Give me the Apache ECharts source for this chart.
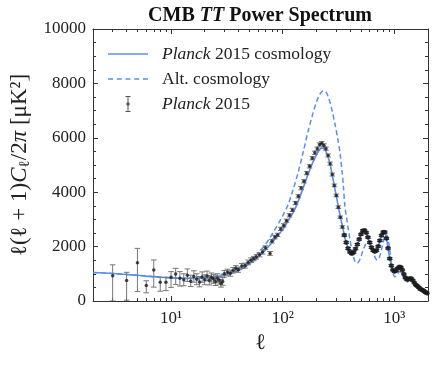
<!DOCTYPE html>
<html>
<head>
<meta charset="utf-8">
<script src="https://cdn.jsdelivr.net/npm/echarts@6/dist/echarts.min.js"></script>
<style>
  html, body { margin: 0; padding: 0; background: #fff; }
  #chart { width: 439px; height: 366px; }
</style>
</head>
<body>
<div id="chart"></div>
<script>
// best-fit Planck 2015 spectrum (solid)
var modelEll = [2, 3, 4, 5, 6, 7, 8, 10, 12, 15, 18, 22, 26, 30, 35, 40, 45, 51, 57, 64, 70, 77, 85, 93, 100, 110, 120, 130, 143, 156, 170, 185, 201, 212, 222, 232, 245, 255, 265, 280, 293, 304, 318, 332, 349, 362, 375, 388, 400, 412, 425, 440, 455, 470, 485, 500, 514, 527, 540, 555, 570, 585, 600, 620, 640, 660, 675, 690, 710, 730, 750, 770, 790, 810, 825, 840, 860, 880, 905, 930, 955, 980, 1000, 1020, 1045, 1070, 1100, 1130, 1160, 1190, 1220, 1250, 1280, 1310, 1340, 1370, 1400, 1430, 1460, 1500, 1550, 1600, 1650, 1700, 1750, 1800, 1850, 1900, 1950, 2000];
var modelDl = [1050, 1010, 975, 945, 915, 895, 875, 850, 835, 830, 840, 860, 900, 950, 1030, 1120, 1230, 1380, 1530, 1720, 1880, 2060, 2270, 2470, 2620, 2900, 3150, 3420, 3850, 4270, 4700, 5080, 5380, 5540, 5620, 5610, 5480, 5280, 5050, 4550, 4130, 3800, 3380, 3000, 2600, 2300, 2080, 1900, 1790, 1750, 1760, 1840, 1960, 2100, 2280, 2430, 2540, 2590, 2590, 2530, 2420, 2290, 2150, 1990, 1880, 1820, 1820, 1850, 1960, 2120, 2290, 2430, 2520, 2540, 2500, 2380, 2170, 1910, 1620, 1380, 1210, 1110, 1080, 1090, 1140, 1200, 1240, 1250, 1210, 1110, 980, 870, 800, 790, 810, 830, 830, 800, 740, 680, 610, 560, 500, 440, 420, 390, 350, 310, 285, 265];

// alternative cosmology (dashed)
var altEll = [2, 3, 4, 5, 6, 8, 10, 12, 15, 18, 22, 26, 30, 35, 40, 45, 51, 58, 64, 70, 77, 85, 93, 100, 112, 124, 138, 153, 169, 185, 200, 215, 228, 238, 248, 260, 275, 294, 310, 326, 340, 349, 361, 375, 388, 400, 415, 430, 445, 460, 475, 490, 505, 520, 540, 560, 585, 605, 625, 645, 665, 685, 700, 720, 740, 760, 780, 800, 820, 840, 852, 865, 880, 900, 920, 940, 960, 985, 1011, 1035, 1060, 1090, 1118, 1150, 1180, 1210, 1240, 1270, 1300, 1330, 1360, 1395, 1430, 1470, 1510, 1550, 1600, 1650, 1700, 1750, 1800, 1850, 1900, 1950, 2000];
var altDl = [1050, 1010, 975, 945, 915, 875, 850, 840, 840, 855, 885, 935, 1000, 1090, 1200, 1320, 1490, 1700, 1880, 2080, 2330, 2620, 2900, 3130, 3550, 4100, 4750, 5500, 6250, 6850, 7300, 7600, 7720, 7720, 7640, 7420, 7050, 6500, 6000, 5450, 4750, 4250, 3470, 3000, 2600, 2250, 1900, 1620, 1450, 1390, 1420, 1520, 1660, 1820, 2000, 2130, 2180, 2120, 1980, 1800, 1640, 1540, 1510, 1540, 1650, 1820, 2030, 2220, 2360, 2420, 2430, 2380, 2250, 2000, 1700, 1400, 1150, 960, 890, 910, 980, 1050, 1080, 1050, 960, 850, 750, 700, 700, 730, 760, 760, 720, 650, 580, 530, 500, 470, 430, 400, 370, 340, 310, 285, 265];

// Planck 2015 measurements
var dataEll = [3, 4, 5, 6, 7, 8, 9, 10, 11, 12, 13, 14, 15, 16, 17, 18, 19, 20, 21, 22, 23, 24, 25, 26, 27, 28, 29,
  30, 32, 34, 36, 38, 40, 43, 46, 49, 52, 55, 58, 62, 66, 70, 77, 80, 85, 90, 96, 102, 108, 115, 122, 130, 138, 146, 155, 164, 174, 184, 194, 204, 214, 224, 234, 244, 255, 266, 278, 290, 302, 315, 328, 342, 356, 370, 385, 400, 416, 432, 449, 466, 484, 502, 521, 540, 560, 580, 601, 623, 645, 668, 692, 716, 741, 767, 794, 821, 849, 878, 908, 939, 970, 1003, 1036, 1070, 1105, 1141, 1178, 1216, 1255, 1295, 1336, 1378, 1421, 1465, 1510, 1557, 1604, 1653, 1703, 1754, 1806, 1860, 1915, 1971];
var dataDl = [930, 750, 1410, 570, 1140, 690, 690, 870, 990, 835, 780, 950, 730, 900, 800, 700, 880, 780, 920, 760, 860, 810, 720, 840, 760, 650, 720,
  1000, 1060, 1020, 1130, 1200, 1150, 1290, 1300, 1420, 1500, 1560, 1620, 1700, 1800, 1960, 1750, 2200, 2350, 2430, 2650, 2780, 2950, 3150, 3350, 3600, 3850, 4150, 4400, 4700, 4950, 5250, 5450, 5600, 5750, 5800, 5720, 5600, 5350, 5050, 4650, 4250, 3880, 3450, 3080, 2720, 2420, 2150, 1930, 1800, 1740, 1790, 1920, 2080, 2270, 2450, 2580, 2600, 2510, 2340, 2150, 1970, 1860, 1820, 1860, 2010, 2220, 2410, 2530, 2530, 2300, 1940, 1560, 1300, 1140, 1080, 1120, 1200, 1250, 1240, 1140, 990, 860, 790, 800, 830, 820, 750, 670, 590, 550, 500, 440, 420, 390, 350, 310, 285];
var dataErrDown = [930, 720, 1060, 270, 630, 330, 310, 370, 380, 285, 220, 230, 200, 210, 200, 180, 190, 180, 180, 170, 160, 160, 150, 150, 140, 140, 140,
  120, 110, 110, 100, 100, 95, 90, 90, 85, 85, 80, 80, 75, 75, 70, 70, 65, 65, 60, 60, 60, 60, 60, 60, 60, 60, 60, 60, 60, 60, 60, 60, 60, 60, 60, 60, 60, 55, 55, 55, 50, 50, 50, 45, 45, 40, 40, 40, 35, 35, 35, 35, 35, 35, 35, 35, 35, 35, 35, 35, 35, 35, 35, 35, 35, 35, 35, 35, 35, 35, 35, 35, 35, 30, 30, 30, 30, 30, 30, 30, 30, 30, 30, 30, 30, 30, 30, 30, 30, 30, 30, 30, 30, 30, 30, 30, 30];
var dataErrUp = [400, 305, 525, 175, 370, 180, 180, 210, 210, 245, 220, 230, 220, 210, 200, 200, 190, 180, 180, 170, 170, 170, 160, 160, 150, 140, 140,
  120, 110, 110, 100, 100, 95, 90, 90, 85, 85, 80, 80, 75, 75, 70, 70, 65, 65, 60, 60, 60, 60, 60, 60, 60, 60, 60, 60, 60, 60, 60, 60, 60, 60, 60, 60, 60, 55, 55, 55, 50, 50, 50, 45, 45, 40, 40, 40, 35, 35, 35, 35, 35, 35, 35, 35, 35, 35, 35, 35, 35, 35, 35, 35, 35, 35, 35, 35, 35, 35, 35, 35, 35, 30, 30, 30, 30, 30, 30, 30, 30, 30, 30, 30, 30, 30, 30, 30, 30, 30, 30, 30, 30, 30, 30, 30, 30];

var xMajor = [10, 100, 1000];
var xMinor = [3, 4, 5, 6, 7, 8, 9, 20, 30, 40, 50, 60, 70, 80, 90, 200, 300, 400, 500, 600, 700, 800, 900];
var supers = { 10: '10¹', 100: '10²', 1000: '10³' };

var serif = 'Liberation Serif, DejaVu Serif, serif';
var blue = '#5890f0';
var axisCol = '#333';

var chart = echarts.init(document.getElementById('chart'));

function xAxisDef(pos, ticks, len, withLine, withLabel) {
  return {
    type: 'log', logBase: 10, min: 2, max: 2000, position: pos,
    axisLine: { show: withLine, onZero: false, lineStyle: { color: axisCol, width: 1 } },
    axisTick: { show: true, inside: true, length: len, customValues: ticks, lineStyle: { color: axisCol } },
    axisLabel: {
      show: withLabel, customValues: xMajor, margin: 9,
      fontFamily: serif, fontSize: 17, color: '#222',
      formatter: function (v) { return supers[Math.round(v)] || ''; }
    },
    splitLine: { show: false },
    minorTick: { show: false }
  };
}

function yAxisDef(pos, withLabel) {
  return {
    type: 'value', min: 0, max: 10000, interval: 2000, position: pos,
    axisLine: { show: true, onZero: false, lineStyle: { color: axisCol, width: 1 } },
    axisTick: { show: true, inside: true, length: 5, lineStyle: { color: axisCol } },
    minorTick: { show: true, splitNumber: 4, length: 3, lineStyle: { color: axisCol } },
    axisLabel: {
      show: withLabel, margin: 7, fontFamily: serif, fontSize: 17, color: '#222',
      formatter: function (v) { return String(v); }
    },
    splitLine: { show: false }
  };
}

var xs = [
  xAxisDef('bottom', xMajor, 5, true, true),
  xAxisDef('bottom', xMinor, 3, false, false),
  xAxisDef('top', xMajor, 5, true, false),
  xAxisDef('top', xMinor, 3, false, false)
];
xs[0].name = 'ℓ';
xs[0].nameLocation = 'middle';
xs[0].nameGap = 30;
xs[0].nameTextStyle = { fontFamily: serif, fontSize: 22, color: '#222' };

var ys = [yAxisDef('left', true), yAxisDef('right', false)];
ys[0].name = '{m|ℓ(ℓ + 1)}{i|C}{s|ℓ}{m|/2}{i|π}{m| [μK²]}';
ys[0].nameLocation = 'middle';
ys[0].nameRotate = 90;
ys[0].nameGap = 58;
ys[0].nameTextStyle = {
  color: '#222',
  rich: {
    m: { fontFamily: serif, fontSize: 23, color: '#222' },
    i: { fontFamily: serif, fontSize: 23, fontStyle: 'italic', color: '#222' },
    s: { fontFamily: serif, fontSize: 15, color: '#222', padding: [10, 0, 0, 0] }
  }
};

var option = {
  animation: false,
  backgroundColor: '#fff',
  title: {
    text: '{b|CMB }{bi|TT}{b| Power Spectrum}',
    left: 260, top: 6, padding: 0, textAlign: 'center',
    textStyle: {
      rich: {
        b: { fontFamily: serif, fontSize: 20, fontWeight: 'bold', color: '#111' },
        bi: { fontFamily: serif, fontSize: 20, fontWeight: 'bold', fontStyle: 'italic', color: '#111' }
      }
    }
  },
  legend: {
    orient: 'vertical', left: 108, top: 45, padding: 0,
    itemWidth: 40, itemHeight: 16, itemGap: 7,
    data: [
      { name: 'Planck 2015 cosmology', icon: 'path://M0,0H40V1.6H0Z', itemStyle: { color: blue } },
      { name: 'Alt. cosmology', icon: 'path://M0,0H5V1.5H0Z M8.75,0H13.75V1.5H8.75Z M17.5,0H22.5V1.5H17.5Z M26.25,0H31.25V1.5H26.25Z M35,0H40V1.5H35Z', itemStyle: { color: blue } },
      { name: 'Planck 2015', icon: 'path://M0,0H5V1H0Z M2,1H3V15H2Z M0,15H5V16H0Z M1,6.5H4V9.5H1Z', itemStyle: { color: '#555' } }
    ],
    formatter: function (name) {
      if (name === 'Planck 2015 cosmology') return '{i|Planck}{n| 2015 cosmology}';
      if (name === 'Planck 2015') return '{i|Planck}{n| 2015}';
      return '{n|' + name + '}';
    },
    textStyle: {
      padding: [0, 0, 0, 9], lineHeight: 17,
      rich: {
        n: { fontFamily: serif, fontSize: 17.5, color: '#222', lineHeight: 17 },
        i: { fontFamily: serif, fontSize: 17.5, fontStyle: 'italic', color: '#222', lineHeight: 17 }
      }
    },
    selectedMode: false
  },
  grid: { left: 93, right: 11, top: 29, bottom: 65, containLabel: false, outerBoundsMode: 'none' },
  xAxis: xs,
  yAxis: ys,
  series: [
    {
      name: 'Planck 2015 cosmology', type: 'line', symbol: 'none', smooth: 0.3, z: 2, silent: true,
      data: modelEll.map(function (l, i) { return [l, modelDl[i]]; }),
      lineStyle: { color: blue, width: 1.6 }, itemStyle: { color: blue }
    },
    {
      name: 'Alt. cosmology', type: 'line', symbol: 'none', smooth: 0.3, z: 2, silent: true,
      data: altEll.map(function (l, i) { return [l, altDl[i]]; }),
      lineStyle: { color: blue, width: 1.5, type: [5, 3] }, itemStyle: { color: blue }
    },
    {
      name: 'Planck 2015', type: 'custom', z: 3, silent: true, clip: true,
      data: dataEll.map(function (l, i) { return [l, dataDl[i] - dataErrDown[i], dataDl[i] + dataErrUp[i]]; }),
      encode: { x: 0, y: [1, 2] },
      itemStyle: { color: '#555' },
      renderItem: function (params, api) {
        var top = api.coord([api.value(0), api.value(2)]);
        var bot = api.coord([api.value(0), api.value(1)]);
        var w = 2.8;
        var st = { stroke: api.value(0) > 350 ? '#333' : '#777', lineWidth: 1 };
        return {
          type: 'group',
          children: [
            { type: 'line', shape: { x1: top[0], y1: top[1], x2: bot[0], y2: bot[1] }, style: st },
            { type: 'line', shape: { x1: top[0] - w, y1: top[1], x2: top[0] + w, y2: top[1] }, style: st },
            { type: 'line', shape: { x1: bot[0] - w, y1: bot[1], x2: bot[0] + w, y2: bot[1] }, style: st }
          ]
        };
      }
    },
    {
      name: 'Planck 2015', type: 'scatter', z: 4, silent: true,
      symbol: 'circle',
      symbolSize: function (v) { return v[0] > 350 ? 4.8 : 3.5; },
      data: dataEll.map(function (l, i) { return [l, dataDl[i]]; }),
      itemStyle: { color: '#1a1a1a' }
    }
  ]
};

chart.setOption(option);
</script>
</body>
</html>
